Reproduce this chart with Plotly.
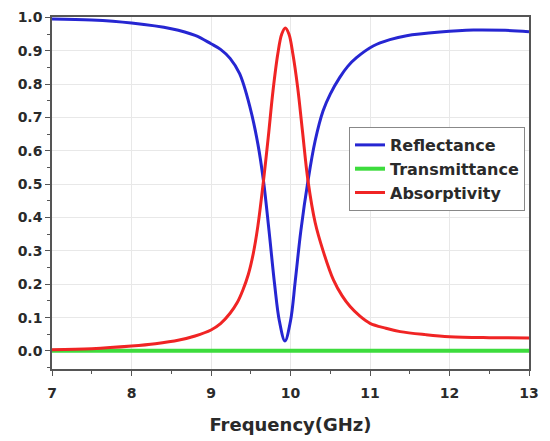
import plotly.graph_objects as go

# Reflectance
freq_R = [7.0, 7.5, 8.0, 8.5, 8.8, 9.0, 9.12, 9.24, 9.36, 9.49, 9.59, 9.66, 9.73, 9.80, 9.86,
          9.93, 10.0, 10.06, 10.13, 10.22, 10.31, 10.41, 10.5, 10.62, 10.72, 10.83, 11.04, 11.25,
          11.46, 11.88, 12.3, 12.7, 13.0]
refl = [0.995, 0.992, 0.983, 0.966, 0.946, 0.921, 0.904, 0.877, 0.831, 0.731, 0.62, 0.51, 0.36, 0.20, 0.09,
        0.03, 0.09, 0.21, 0.36, 0.51, 0.63, 0.72, 0.77, 0.82, 0.853, 0.879, 0.914, 0.933,
        0.945, 0.956, 0.962, 0.961, 0.957]

# Transmittance
freq_T = [7.0, 8.0, 9.0, 10.0, 11.0, 12.0, 13.0]
trans = [0.001, 0.001, 0.001, 0.001, 0.001, 0.001, 0.001]

# Absorptivity
freq_A = [7.0, 7.5, 8.0, 8.3, 8.6, 8.8, 9.0, 9.12, 9.24, 9.33, 9.40, 9.47, 9.53, 9.59, 9.66,
          9.72, 9.78, 9.84, 9.89, 9.935, 9.98, 10.03, 10.09, 10.15, 10.22, 10.31, 10.41, 10.54,
          10.65, 10.75, 10.87, 11.0, 11.2, 11.38, 11.7, 12.0, 12.5, 13.0]
absorb = [0.004, 0.007, 0.015, 0.022, 0.033, 0.045, 0.063, 0.082, 0.113, 0.145, 0.182, 0.23, 0.29, 0.375, 0.51,
          0.64, 0.78, 0.89, 0.95, 0.968, 0.95, 0.89, 0.79, 0.66, 0.51, 0.385, 0.30, 0.213,
          0.165, 0.133, 0.105, 0.083, 0.068, 0.058, 0.049, 0.043, 0.040, 0.039]

x_ticks = [7, 8, 9, 10, 11, 12, 13]
y_ticks = [0.0, 0.1, 0.2, 0.3, 0.4, 0.5, 0.6, 0.7, 0.8, 0.9, 1.0]

FONT = "DejaVu Sans"
TXT = "#2a2a2a"

fig = go.Figure()
fig.add_trace(go.Scatter(x=freq_R, y=refl, name="<b>Reflectance</b>", mode="lines",
                         line=dict(color="#2626d2", width=3, shape="spline", smoothing=1.0)))
fig.add_trace(go.Scatter(x=freq_T, y=trans, name="<b>Transmittance</b>", mode="lines",
                         line=dict(color="#3ddc3d", width=4)))
fig.add_trace(go.Scatter(x=freq_A, y=absorb, name="<b>Absorptivity</b>", mode="lines",
                         line=dict(color="#f02424", width=3, shape="spline", smoothing=1.0)))

axis_common = dict(showline=True, linecolor="#555555", linewidth=1.5, mirror=True,
                   ticks="outside", ticklen=5, tickwidth=1.2, tickcolor="#555555",
                   showgrid=True, gridcolor="#e8e8e8", gridwidth=1, zeroline=False,
                   automargin=False,
                   tickfont=dict(family=FONT, size=14, color=TXT, weight="bold"))

fig.update_xaxes(range=[7, 13], tickvals=x_ticks, ticktext=[str(v) for v in x_ticks],
                 ticklabelstandoff=5,
                 minor=dict(dtick=0.5, ticklen=3, ticks="outside", tickcolor="#555555", showgrid=False),
                 title=dict(text="<b>Frequency(GHz)</b>", font=dict(family=FONT, size=18, color=TXT),
                            standoff=19),
                 **axis_common)
fig.update_yaxes(range=[-0.054, 1.001], tickvals=y_ticks, ticktext=[f"{v:.1f}" for v in y_ticks],
                 minor=dict(dtick=0.05, ticklen=3, ticks="outside", tickcolor="#555555", showgrid=False),
                 **axis_common)

fig.update_layout(
    width=550, height=441,
    margin=dict(l=52, r=21, t=17, b=72),
    paper_bgcolor="white", plot_bgcolor="white",
    showlegend=True,
    legend=dict(x=(349 - 52) / 477, y=(369 - 127) / 352, xanchor="left", yanchor="top",
                bgcolor="white", bordercolor="#888888", borderwidth=1,
                font=dict(family=FONT, size=16, color=TXT), tracegroupgap=0),
)

fig.write_html("out.html")
